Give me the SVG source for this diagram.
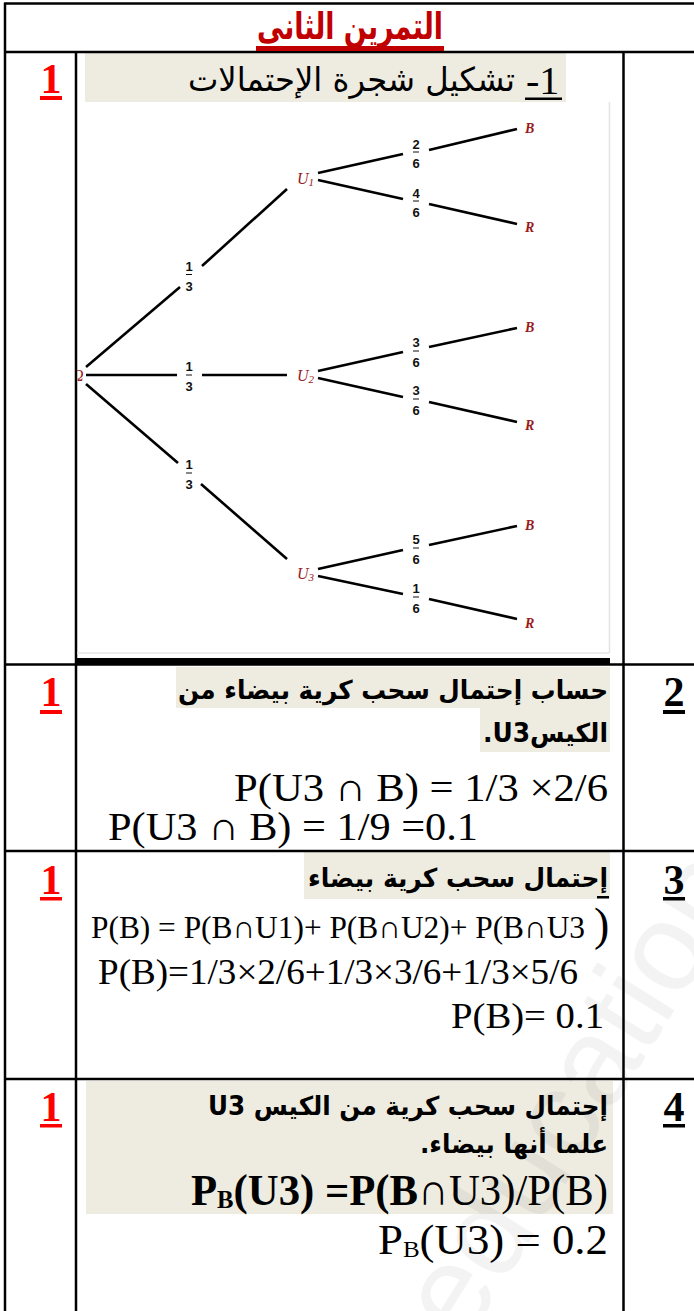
<svg xmlns="http://www.w3.org/2000/svg" width="694" height="1311" viewBox="0 0 694 1311">
<style>
.ln{stroke:#000;stroke-width:2.5;fill:none}
.br{stroke:#000;stroke-width:2.6;fill:none}
.fb{stroke:#111;stroke-width:1}
.hl{fill:#EEECE1}
.ar{font-family:"DejaVu Sans",sans-serif;font-weight:bold;font-size:26px;fill:#000}
.tm{font-family:"Liberation Serif","DejaVu Serif",serif;fill:#000}
.sc{font-family:"Liberation Serif",serif;font-weight:bold;font-size:42px;text-anchor:middle}
.fr{font-family:"Liberation Sans",sans-serif;font-weight:bold;font-size:13px;text-anchor:middle;fill:#111}
.lb{font-family:"Liberation Serif",serif;font-style:italic;fill:#9A1A1A}
.lbb{font-family:"Liberation Serif",serif;font-style:italic;font-weight:bold;font-size:14px;fill:#9A1A1A}
</style>
<defs>
<clipPath id="clipRoot"><rect x="77" y="360" width="20" height="30"/></clipPath>
</defs>
<rect x="0" y="0" width="694" height="1311" fill="#fff"/>

<!-- highlight boxes -->
<g id="highlights">
<rect class="hl" x="85" y="53" width="481" height="49"/>
<rect class="hl" x="176" y="667" width="434" height="41"/>
<rect class="hl" x="480" y="708" width="130" height="44"/>
<rect class="hl" x="304" y="852" width="306" height="47"/>
<rect class="hl" x="86" y="1081" width="527" height="133"/>
</g>

<!-- watermark -->
<text transform="translate(465,1345) rotate(-58)" font-family="Liberation Sans" font-size="125" fill="#000" opacity="0.045">education</text>

<!-- table grid -->
<g id="table">
<line class="ln" x1="4" y1="3.5" x2="694" y2="3.5"/>
<line class="ln" x1="5" y1="3" x2="5" y2="1311"/>
<line class="ln" x1="4" y1="52" x2="694" y2="52"/>
<line class="ln" x1="76" y1="52" x2="76" y2="1311"/>
<line class="ln" x1="623.5" y1="52" x2="623.5" y2="1311"/>
<line class="ln" x1="4" y1="664.5" x2="694" y2="664.5"/>
<line class="ln" x1="4" y1="851" x2="694" y2="851"/>
<line class="ln" x1="4" y1="1079" x2="694" y2="1079"/>
</g>

<!-- header -->
<g id="title">
<text x="350" y="39" direction="rtl" text-anchor="middle" font-family="DejaVu Sans, sans-serif" font-weight="bold" font-size="37" fill="#C00000" textLength="186" lengthAdjust="spacingAndGlyphs">التمرين الثانى</text>
<rect x="256" y="46" width="188" height="5" fill="#C00000"/>
</g>

<!-- score column -->
<g id="scores">
<text class="sc" x="51" y="93" fill="#FF0000">1</text>
<rect x="40" y="96" width="22" height="4" fill="#FF0000"/>
<text class="sc" x="51" y="706" fill="#FF0000">1</text>
<rect x="40" y="710" width="22" height="4" fill="#FF0000"/>
<text class="sc" x="51" y="894" fill="#FF0000">1</text>
<rect x="40" y="897" width="22" height="3.5" fill="#FF0000"/>
<text class="sc" x="51" y="1121" fill="#FF0000">1</text>
<rect x="40" y="1124" width="22" height="3.5" fill="#FF0000"/>
</g>

<!-- question numbers -->
<g id="qnums">
<text class="sc" x="674" y="706" fill="#000">2</text>
<rect x="663" y="710" width="22" height="4" fill="#000"/>
<text class="sc" x="674" y="894" fill="#000">3</text>
<rect x="663" y="897" width="22" height="3.5" fill="#000"/>
<text class="sc" x="674" y="1121" fill="#000">4</text>
<rect x="663" y="1124" width="22" height="3.5" fill="#000"/>
</g>

<!-- row 1 heading -->
<g id="q1">
<text x="515" y="91" direction="rtl" text-anchor="start" font-family="DejaVu Sans, sans-serif" font-size="33" fill="#000" textLength="327" lengthAdjust="spacingAndGlyphs">تشكيل شجرة الإحتمالات</text>
<text class="tm" x="526" y="94" font-size="40">-1</text>
<rect x="525" y="97.5" width="37" height="2.5" fill="#000"/>
</g>

<!-- tree frame -->
<g id="tree-frame">
<line x1="609.5" y1="102" x2="609.5" y2="653" stroke="#e4e4e4" stroke-width="1.5"/>
<line x1="77" y1="653" x2="609" y2="653" stroke="#e4e4e4" stroke-width="1.5"/>
<rect x="76" y="658" width="534" height="7" fill="#000"/>
</g>

<!-- connectors -->
<g id="connectors">
<line class="br" x1="86" y1="367" x2="180" y2="287"/>
<line class="br" x1="202" y1="266" x2="287" y2="189"/>
<line class="br" x1="86" y1="375" x2="177" y2="375"/>
<line class="br" x1="202" y1="375" x2="287" y2="375"/>
<line class="br" x1="86" y1="384" x2="178" y2="463"/>
<line class="br" x1="201" y1="484" x2="287" y2="559"/>
<line class="br" x1="318" y1="173" x2="403" y2="154"/>
<line class="br" x1="429" y1="150" x2="517" y2="129"/>
<line class="br" x1="318" y1="180" x2="403" y2="199"/>
<line class="br" x1="429" y1="204" x2="517" y2="224"/>
<line class="br" x1="318" y1="371" x2="403" y2="352"/>
<line class="br" x1="429" y1="347" x2="517" y2="328"/>
<line class="br" x1="318" y1="378" x2="403" y2="397"/>
<line class="br" x1="429" y1="402" x2="517" y2="422"/>
<line class="br" x1="318" y1="569" x2="403" y2="550"/>
<line class="br" x1="429" y1="545" x2="517" y2="526"/>
<line class="br" x1="318" y1="576" x2="403" y2="594"/>
<line class="br" x1="429" y1="599" x2="517" y2="619"/>
</g>

<!-- branch probabilities -->
<g id="fractions">
<text class="fr" x="189" y="271">1</text><line class="fb" x1="186" y1="274.5" x2="192" y2="274.5"/><text class="fr" x="189" y="291">3</text>
<text class="fr" x="189" y="371">1</text><line class="fb" x1="186" y1="375" x2="192" y2="375"/><text class="fr" x="189" y="391">3</text>
<text class="fr" x="189" y="469">1</text><line class="fb" x1="186" y1="473" x2="192" y2="473"/><text class="fr" x="189" y="489">3</text>
<text class="fr" x="416" y="149">2</text><line class="fb" x1="413" y1="152" x2="419" y2="152"/><text class="fr" x="416" y="168">6</text>
<text class="fr" x="416" y="198">4</text><line class="fb" x1="413" y1="201" x2="419" y2="201"/><text class="fr" x="416" y="217">6</text>
<text class="fr" x="416" y="347">3</text><line class="fb" x1="413" y1="351" x2="419" y2="351"/><text class="fr" x="416" y="367">6</text>
<text class="fr" x="416" y="395">3</text><line class="fb" x1="413" y1="399" x2="419" y2="399"/><text class="fr" x="416" y="415">6</text>
<text class="fr" x="416" y="544">5</text><line class="fb" x1="413" y1="548" x2="419" y2="548"/><text class="fr" x="416" y="564">6</text>
<text class="fr" x="416" y="593">1</text><line class="fb" x1="413" y1="597" x2="419" y2="597"/><text class="fr" x="416" y="613">6</text>
</g>

<!-- tree nodes -->
<g id="node-root"><text class="lb" x="72" y="381" font-size="16" clip-path="url(#clipRoot)">Ω</text></g>
<g id="node-U1"><text class="lb" x="297" y="184" font-size="16">U<tspan font-size="11" dy="2">1</tspan></text></g>
<g id="node-U2"><text class="lb" x="297" y="381" font-size="16">U<tspan font-size="11" dy="2">2</tspan></text></g>
<g id="node-U3"><text class="lb" x="297" y="579" font-size="16">U<tspan font-size="11" dy="2">3</tspan></text></g>
<g id="node-B1"><text class="lbb" x="525" y="133">B</text></g>
<g id="node-R1"><text class="lbb" x="525" y="232">R</text></g>
<g id="node-B2"><text class="lbb" x="525" y="332">B</text></g>
<g id="node-R2"><text class="lbb" x="525" y="430">R</text></g>
<g id="node-B3"><text class="lbb" x="525" y="530">B</text></g>
<g id="node-R3"><text class="lbb" x="525" y="628">R</text></g>

<!-- row 2 -->
<g id="q2">
<text class="ar" x="608" y="699" direction="rtl" text-anchor="start" textLength="430" lengthAdjust="spacingAndGlyphs">حساب إحتمال سحب كرية بيضاء من</text>
<text class="ar" x="608" y="742" direction="rtl" text-anchor="start" textLength="125" lengthAdjust="spacingAndGlyphs">الكيسU3.</text>
<text class="tm" x="234" y="801" font-size="40" textLength="374" lengthAdjust="spacingAndGlyphs">P(U3 ∩ B) = 1/3 ×2/6</text>
<text class="tm" x="108" y="840" font-size="40" textLength="370" lengthAdjust="spacingAndGlyphs">P(U3 ∩ B) = 1/9 =0.1</text>
</g>

<!-- row 3 -->
<g id="q3">
<text class="ar" x="608" y="887" direction="rtl" text-anchor="start" textLength="300" lengthAdjust="spacingAndGlyphs">إحتمال سحب كرية بيضاء</text>
<rect x="597" y="896" width="12" height="2.5" fill="#000"/>
<text class="tm" x="91" y="938" font-size="32" textLength="494" lengthAdjust="spacingAndGlyphs">P(B) = P(B∩U1)+ P(B∩U2)+ P(B∩U3</text>
<text class="tm" x="594" y="940" font-size="46">)</text>
<text class="tm" x="98" y="984" font-size="35" textLength="480" lengthAdjust="spacingAndGlyphs">P(B)=1/3×2/6+1/3×3/6+1/3×5/6</text>
<text class="tm" x="451" y="1028" font-size="35" textLength="153" lengthAdjust="spacingAndGlyphs">P(B)= 0.1</text>
</g>

<!-- row 4 -->
<g id="q4">
<text class="ar" x="608" y="1115" direction="rtl" text-anchor="start" textLength="400" lengthAdjust="spacingAndGlyphs">إحتمال سحب كرية من الكيس U3</text>
<text class="ar" x="608" y="1153" direction="rtl" text-anchor="start" textLength="188" lengthAdjust="spacingAndGlyphs">علما أنها بيضاء.</text>
<text class="tm" x="191" y="1205" font-size="45" textLength="417" lengthAdjust="spacingAndGlyphs"><tspan font-weight="bold">P</tspan><tspan font-weight="bold" font-size="26" dy="3">B</tspan><tspan font-weight="bold" dy="-3">(U3) =P(B</tspan><tspan>∩U3)/P(B)</tspan></text>
<text class="tm" x="378" y="1254" font-size="43" textLength="230" lengthAdjust="spacingAndGlyphs">P<tspan font-size="24" dy="3">B</tspan><tspan dy="-3">(U3) =  0.2</tspan></text>
</g>
</svg>
